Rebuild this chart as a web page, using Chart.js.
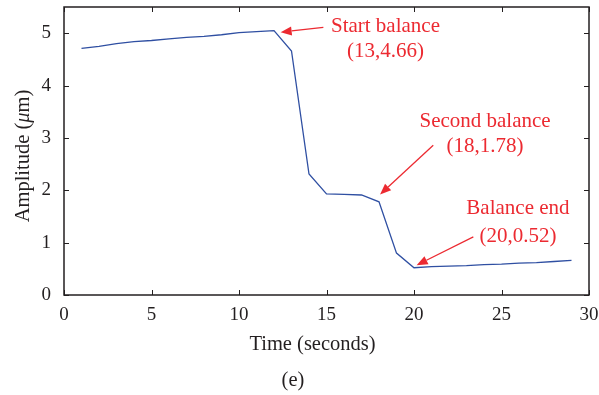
<!DOCTYPE html>
<html>
<head>
<meta charset="utf-8">
<script src="https://cdn.jsdelivr.net/npm/chart.js@4.4.1/dist/chart.umd.min.js"></script>
<style>
  html, body { margin: 0; padding: 0; background: #ffffff; }
  #wrap { width: 599px; height: 395px; position: relative; }
</style>
</head>
<body>
<div id="wrap"><canvas id="chart" width="599" height="395"></canvas></div>
<script>
// Measured amplitude over time
const timeSeconds = [1, 2, 3, 4, 5, 6, 7, 8, 9, 10, 11, 12, 13, 14, 15, 16, 17, 18, 19, 20, 21, 22, 23, 24, 25, 26, 27, 28, 29];
const amplitude = [4.71, 4.75, 4.80, 4.84, 4.86, 4.89, 4.92, 4.94, 4.97, 5.01, 5.03, 5.05, 4.66, 2.31, 1.93, 1.92, 1.91, 1.78, 0.80, 0.52, 0.54, 0.55, 0.56, 0.58, 0.59, 0.61, 0.62, 0.64, 0.66];
const xTickValues = [0, 5, 10, 15, 20, 25, 30];
const yTickValues = [0, 1, 2, 3, 4, 5];

const INK = '#231f20';
const RED = '#ec2a31';
const FONT = '"Liberation Serif", "DejaVu Serif", serif';
const TITLE_SIZE = 20.5;
const NOTE_SIZE = 21;

// Callouts: arrow tail -> tip and two text lines, in data units
const callouts = [
  { lines: ['Start balance', '(13,4.66)'], textX: 18.37, textY: [5.12, 4.65], tail: [14.82, 5.11], tip: [12.38, 5.02] },
  { lines: ['Second balance', '(18,1.78)'], textX: 24.06, textY: [3.31, 2.83], tail: [21.1, 2.86], tip: [18.06, 1.92] },
  { lines: ['Balance end', '(20,0.52)'], textX: 25.94, textY: [1.66, 1.11], tail: [23.39, 1.11], tip: [20.15, 0.57] }
];

const framePlugin = {
  id: 'frame',
  afterDraw(chart) {
    const { ctx, chartArea: a, scales } = chart;
    const xs = scales.x, ys = scales.y;
    ctx.save();
    // inward ticks on all four sides
    ctx.strokeStyle = INK;
    ctx.lineWidth = 1;
    const t = 5;
    ctx.beginPath();
    xTickValues.forEach(v => {
      const px = Math.round(xs.getPixelForValue(v)) + 0.5;
      ctx.moveTo(px, a.bottom); ctx.lineTo(px, a.bottom - t);
      ctx.moveTo(px, a.top); ctx.lineTo(px, a.top + t);
    });
    yTickValues.forEach(v => {
      const py = Math.round(ys.getPixelForValue(v)) + 0.5;
      ctx.moveTo(a.left, py); ctx.lineTo(a.left + t, py);
      ctx.moveTo(a.right, py); ctx.lineTo(a.right - t, py);
    });
    ctx.stroke();
    // box
    ctx.lineWidth = 1.5;
    ctx.strokeRect(a.left, a.top, a.right - a.left, a.bottom - a.top);

    // y-axis title with italic mu
    ctx.fillStyle = INK;
    ctx.textBaseline = 'middle';
    const parts = [
      { s: 'Amplitude (', f: TITLE_SIZE + 'px ' + FONT },
      { s: '\u03bc', f: 'italic ' + TITLE_SIZE + 'px ' + FONT },
      { s: 'm)', f: TITLE_SIZE + 'px ' + FONT }
    ];
    let total = 0;
    parts.forEach(p => { ctx.font = p.f; p.w = ctx.measureText(p.s).width; total += p.w; });
    ctx.translate(24, (a.top + a.bottom) / 2 + 5);
    ctx.rotate(-Math.PI / 2);
    let cx = -total / 2;
    ctx.textAlign = 'left';
    parts.forEach(p => { ctx.font = p.f; ctx.fillText(p.s, cx, 0); cx += p.w; });
    ctx.setTransform(1, 0, 0, 1, 0, 0);

    // x-axis title and panel label
    ctx.font = TITLE_SIZE + 'px ' + FONT;
    ctx.textAlign = 'center';
    ctx.fillText('Time (seconds)', (a.left + a.right) / 2 - 14, a.bottom + 50);
    ctx.fillText('(e)', 293, 381);

    // callouts
    ctx.strokeStyle = RED;
    ctx.fillStyle = RED;
    callouts.forEach(c => {
      const x0 = xs.getPixelForValue(c.tail[0]), y0 = ys.getPixelForValue(c.tail[1]);
      const x1 = xs.getPixelForValue(c.tip[0]), y1 = ys.getPixelForValue(c.tip[1]);
      const ang = Math.atan2(y1 - y0, x1 - x0);
      const hl = 11, hw = 4.5;
      const bx = x1 - hl * Math.cos(ang), by = y1 - hl * Math.sin(ang);
      ctx.lineWidth = 1.3;
      ctx.beginPath();
      ctx.moveTo(x0, y0); ctx.lineTo(bx, by);
      ctx.stroke();
      ctx.beginPath();
      ctx.moveTo(x1, y1);
      ctx.lineTo(bx + hw * Math.sin(ang), by - hw * Math.cos(ang));
      ctx.lineTo(bx - hw * Math.sin(ang), by + hw * Math.cos(ang));
      ctx.closePath();
      ctx.fill();
      ctx.font = NOTE_SIZE + 'px ' + FONT;
      ctx.textAlign = 'center';
      ctx.textBaseline = 'middle';
      c.lines.forEach((s, i) => {
        ctx.fillText(s, xs.getPixelForValue(c.textX), ys.getPixelForValue(c.textY[i]));
      });
    });
    ctx.restore();
  }
};

new Chart(document.getElementById('chart'), {
  type: 'line',
  data: {
    labels: timeSeconds,
    datasets: [{
      data: timeSeconds.map((t, i) => ({ x: t, y: amplitude[i] })),
      borderColor: '#2f4fa2',
      borderWidth: 1.3,
      pointRadius: 0,
      tension: 0,
      fill: false
    }]
  },
  options: {
    responsive: false,
    animation: false,
    devicePixelRatio: 1,
    layout: { padding: { top: 7, right: 10, left: 0, bottom: 0 } },
    plugins: { legend: { display: false }, tooltip: { enabled: false } },
    scales: {
      x: {
        type: 'linear',
        min: 0, max: 30,
        grid: { display: false, drawTicks: false },
        border: { display: false },
        ticks: { color: INK, font: { family: FONT, size: 19 }, padding: 9, maxRotation: 0 },
        afterBuildTicks(scale) { scale.ticks = xTickValues.map(v => ({ value: v })); },
        afterFit(scale) {
          scale.height = 100;
          scale.paddingLeft = 0; scale.paddingRight = 0;
        }
      },
      y: {
        type: 'linear',
        min: 0, max: 5.5,
        grid: { display: false, drawTicks: false },
        border: { display: false },
        ticks: { color: INK, font: { family: FONT, size: 19 }, padding: 13 },
        afterBuildTicks(scale) { scale.ticks = yTickValues.map(v => ({ value: v })); },
        afterFit(scale) {
          scale.width = 64;
          scale.paddingTop = 0; scale.paddingBottom = 0;
        }
      }
    }
  },
  plugins: [framePlugin]
});
</script>
</body>
</html>
